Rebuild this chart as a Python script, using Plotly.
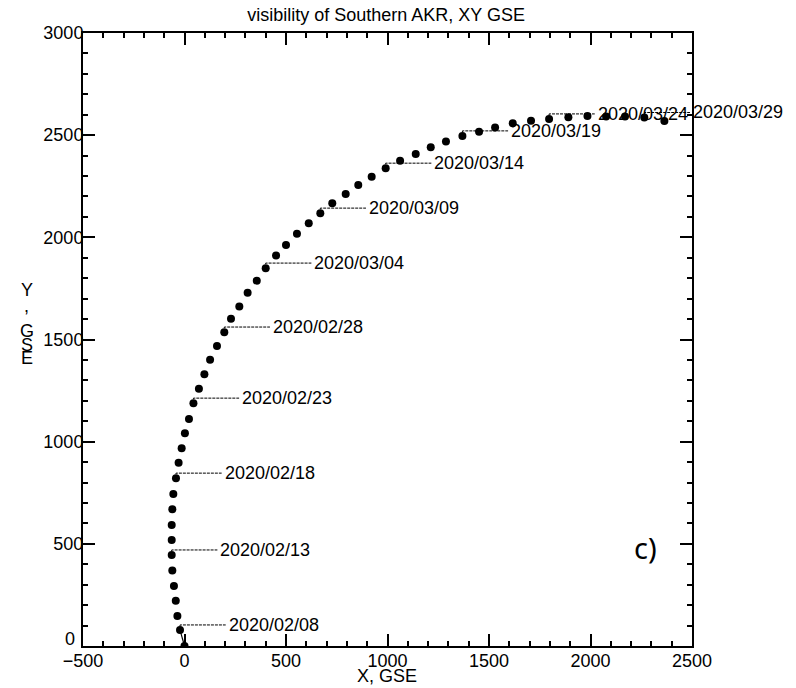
import plotly.graph_objects as go

# ---- data ----
X_GSE = [-22, -35, -43, -52, -60, -63, -63, -63, -60, -55, -42, -29, -14, 2, 22, 44,
         71, 98, 126, 160, 196, 229, 270, 311, 356, 400, 451, 500, 554, 612, 669,
         728, 794, 856, 922, 991, 1062, 1139, 1213, 1288, 1369, 1451, 1530, 1617,
         1707, 1796, 1891, 1985, 2077, 2170, 2265, 2364]
Y_GSE = [78, 147, 222, 294, 369, 445, 519, 592, 669, 744, 821, 897, 968, 1041, 1111,
         1188, 1259, 1330, 1401, 1468, 1536, 1601, 1661, 1729, 1788, 1849, 1911, 1963,
         2017, 2069, 2118, 2167, 2212, 2256, 2297, 2338, 2375, 2408, 2441, 2469, 2496,
         2517, 2537, 2558, 2571, 2579, 2588, 2594, 2591, 2591, 2586, 2569]
LABEL_INDEX = [0, 5, 10, 15, 20, 25, 30, 35, 40, 45, 50]
LABEL_TEXT = ["2020/02/08", "2020/02/13", "2020/02/18", "2020/02/23", "2020/02/28",
              "2020/03/04", "2020/03/09", "2020/03/14", "2020/03/19", "2020/03/24",
              "2020/03/29"]
ORIGIN_X = [0]
ORIGIN_Y = [0]
X_TICKS = [-500, 0, 500, 1000, 1500, 2000, 2500]
Y_TICKS = [0, 500, 1000, 1500, 2000, 2500, 3000]
Y_TICK_TEXT = ["", "500", "1000", "1500", "2000", "2500", "3000"]  # "0" drawn raised

# ---- style ----
FONT = "Liberation Sans, Arial, sans-serif"
LABEL_DX = 225   # leader length in data units
LABEL_DY = 25

fig = go.Figure()

# line from origin to first point
fig.add_trace(go.Scatter(x=[ORIGIN_X[0], X_GSE[0]], y=[ORIGIN_Y[0], Y_GSE[0]],
                         mode="lines", line=dict(color="black", width=1.2),
                         showlegend=False, hoverinfo="skip"))

# leaders
lx, ly = [], []
for i in LABEL_INDEX:
    x0, y0 = X_GSE[i], Y_GSE[i]
    lx += [x0, x0, x0 + LABEL_DX, None]
    ly += [y0, y0 + LABEL_DY, y0 + LABEL_DY, None]
fig.add_trace(go.Scatter(x=lx, y=ly, mode="lines",
                         line=dict(color="black", width=1, dash="3px,1px"),
                         showlegend=False, hoverinfo="skip"))

fig.add_trace(go.Scatter(x=ORIGIN_X + X_GSE, y=ORIGIN_Y + Y_GSE, mode="markers",
                         marker=dict(color="black", size=8, symbol="circle"),
                         showlegend=False))

for i, t in zip(LABEL_INDEX, LABEL_TEXT):
    fig.add_annotation(x=X_GSE[i] + LABEL_DX, y=Y_GSE[i] + LABEL_DY, text=t,
                       xanchor="left", yanchor="middle", showarrow=False,
                       xshift=1, font=dict(family=FONT, size=18, color="black"))

axis_common = dict(showline=True, linecolor="black", linewidth=2, mirror="ticks",
                   ticks="inside", ticklen=12, tickwidth=1.5, tickcolor="black",
                   showgrid=False, zeroline=False,
                   tickfont=dict(family=FONT, size=18, color="black"),
                   minor=dict(ticks="inside", ticklen=5, tickwidth=1.5,
                              tickcolor="black", dtick=100, showgrid=False))

fig.update_xaxes(range=[-500, 2500], tickvals=X_TICKS, ticklabelstandoff=-3,
                 **axis_common)
fig.update_yaxes(range=[0, 3000], tickvals=Y_TICKS, ticktext=Y_TICK_TEXT,
                 ticklabelstandoff=-6, **axis_common)

# raised "0" label of the y axis
fig.add_annotation(xref="paper", yref="paper", x=-0.0099, y=0.0114, text=str(Y_TICKS[0]),
                   showarrow=False, xanchor="right", yanchor="middle",
                   font=dict(family=FONT, size=18, color="black"))

# axis titles
fig.add_annotation(xref="paper", yref="paper", x=0.499, y=-0.0685, text="X, GSE",
                   showarrow=False, xanchor="center", yanchor="bottom",
                   font=dict(family=FONT, size=18, color="black"))
for ch, yy in zip(["Y", ",", "G", "S", "E"], [0.581, 0.555, 0.514, 0.491, 0.470]):
    fig.add_annotation(xref="paper", yref="paper", x=-0.092, y=yy, text=ch,
                       showarrow=False, xanchor="center", yanchor="middle",
                       font=dict(family=FONT, size=18, color="black"))

fig.add_annotation(xref="paper", yref="paper", x=0.923, y=0.160, text="c)",
                   showarrow=False, xanchor="center", yanchor="middle",
                   font=dict(family="Noto Sans, Open Sans, sans-serif", size=29,
                             color="black"))

fig.update_layout(
    width=796, height=688,
    margin=dict(l=83, r=104, t=33, b=42),
    plot_bgcolor="white", paper_bgcolor="white",
    title=dict(text="visibility of Southern AKR, XY GSE", x=0.485, xanchor="center",
               y=1 - 15 / 688, yanchor="middle",
               font=dict(family=FONT, size=18, color="black")),
)

fig.write_html("out.html")
